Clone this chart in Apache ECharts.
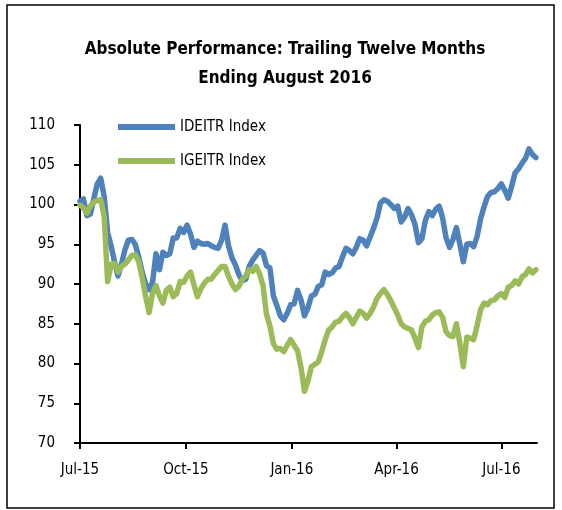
<!DOCTYPE html>
<html>
<head>
<meta charset="utf-8">
<script src="https://cdn.jsdelivr.net/npm/echarts@6/dist/echarts.min.js"></script>
<style>
  html, body { margin: 0; padding: 0; background: #fff; }
  #chart { width: 562px; height: 510px; }
</style>
</head>
<body>
<div id="chart"></div>
<script>
const dates = [
  '2015-07-01', '2015-07-04', '2015-07-07', '2015-07-10', '2015-07-13', '2015-07-16', '2015-07-19', '2015-07-22', '2015-07-25', '2015-07-28', '2015-07-31',
  '2015-08-03', '2015-08-06', '2015-08-09', '2015-08-12', '2015-08-15', '2015-08-18', '2015-08-21', '2015-08-24', '2015-08-27', '2015-08-30',
  '2015-09-02', '2015-09-05', '2015-09-08', '2015-09-11', '2015-09-14', '2015-09-17', '2015-09-20', '2015-09-23', '2015-09-26', '2015-09-29',
  '2015-10-02', '2015-10-05', '2015-10-08', '2015-10-11', '2015-10-14', '2015-10-17', '2015-10-20', '2015-10-23', '2015-10-26', '2015-10-29',
  '2015-11-01', '2015-11-04', '2015-11-07', '2015-11-10', '2015-11-13', '2015-11-16', '2015-11-19', '2015-11-22', '2015-11-25', '2015-11-28',
  '2015-12-01', '2015-12-04', '2015-12-07', '2015-12-10', '2015-12-13', '2015-12-16', '2015-12-19', '2015-12-22', '2015-12-25', '2015-12-28', '2015-12-31',
  '2016-01-03', '2016-01-06', '2016-01-09', '2016-01-12', '2016-01-15', '2016-01-18', '2016-01-21', '2016-01-24', '2016-01-27', '2016-01-30',
  '2016-02-02', '2016-02-05', '2016-02-08', '2016-02-11', '2016-02-14', '2016-02-17', '2016-02-20', '2016-02-23', '2016-02-26', '2016-02-29',
  '2016-03-03', '2016-03-06', '2016-03-09', '2016-03-12', '2016-03-15', '2016-03-18', '2016-03-21', '2016-03-24', '2016-03-27', '2016-03-30',
  '2016-04-02', '2016-04-05', '2016-04-08', '2016-04-11', '2016-04-14', '2016-04-17', '2016-04-20', '2016-04-23', '2016-04-26', '2016-04-29',
  '2016-05-02', '2016-05-05', '2016-05-08', '2016-05-11', '2016-05-14', '2016-05-17', '2016-05-20', '2016-05-23', '2016-05-26', '2016-05-29',
  '2016-06-01', '2016-06-04', '2016-06-07', '2016-06-10', '2016-06-13', '2016-06-16', '2016-06-19', '2016-06-22', '2016-06-25', '2016-06-28',
  '2016-07-01', '2016-07-04', '2016-07-07', '2016-07-10', '2016-07-13', '2016-07-16', '2016-07-19', '2016-07-22', '2016-07-25', '2016-07-28', '2016-07-31'
];

const ideitr = [
  100.4, 100.7, 98.6, 98.8, 100.7, 102.6, 103.3, 101.0, 96.5, 94.8, 92.8,
  91.0, 92.5, 94.3, 95.5, 95.6, 95.0, 93.4, 91.5, 90.0, 89.3,
  90.2, 93.8, 91.8, 94.0, 93.6, 93.8, 95.8, 95.8, 97.0, 96.5,
  97.4, 96.3, 94.6, 95.4, 95.1, 95.0, 95.1, 94.8, 94.6, 94.5,
  95.5, 97.4, 94.8, 93.3, 92.4, 91.2, 90.4, 90.6, 92.2, 93.0,
  93.6, 94.2, 93.9, 92.3, 92.0, 88.5, 87.3, 86.0, 85.5, 86.3, 87.4,
  87.5, 89.2, 88.0, 86.0, 87.0, 88.5, 88.7, 89.7, 89.9, 91.5,
  91.2, 91.4, 92.0, 92.2, 93.4, 94.5, 94.2, 93.8, 94.6, 95.7,
  95.5, 94.8, 95.9, 97.0, 98.3, 100.2, 100.6, 100.4, 100.0, 99.5,
  99.8, 97.8, 98.4, 99.5, 98.7, 97.5, 95.2, 95.7, 98.0, 99.1,
  98.6, 99.4, 99.8, 98.3, 95.8, 94.6, 95.6, 97.1, 95.0, 92.8,
  95.0, 95.1, 94.7, 96.0, 98.2, 99.7, 101.0, 101.5, 101.6, 102.0,
  102.6, 101.8, 100.8, 102.3, 104.0, 104.5, 105.2, 105.8, 107.0, 106.3, 105.9
];

const igeitr = [
  99.9, 99.6, 98.9, 99.8, 100.3, 100.5, 100.6, 98.5, 90.3, 92.5, 92.6,
  91.5, 92.2, 92.5, 93.0, 93.6, 93.7, 92.8, 90.8, 88.5, 86.4,
  88.8, 89.8, 88.5, 87.6, 89.2, 89.6, 88.4, 88.8, 90.3, 90.2,
  91.0, 91.5, 89.9, 88.4, 89.4, 90.1, 90.6, 90.6, 91.2, 91.7,
  92.2, 92.2, 91.0, 90.0, 89.3, 89.7, 90.6, 91.0, 91.8, 91.6,
  92.2, 91.3, 89.8, 86.2, 84.7, 82.5, 81.8, 81.9, 81.5, 82.3, 83.0,
  82.3, 81.6, 79.5, 76.5, 77.8, 79.6, 79.9, 80.2, 81.5, 83.0,
  84.2, 84.6, 85.2, 85.3, 85.9, 86.3, 85.8, 85.0, 85.8, 86.6,
  86.3, 85.7, 86.3, 87.1, 88.2, 88.8, 89.3, 88.7, 87.9, 87.0,
  86.1, 85.0, 84.6, 84.4, 84.2, 83.2, 82.0, 84.6, 85.3, 85.5,
  86.1, 86.4, 86.5, 85.8, 84.0, 83.5, 83.4, 85.0, 82.5, 79.6,
  83.3, 83.2, 83.0, 84.8, 86.8, 87.6, 87.4, 87.9, 88.0, 88.5,
  88.8, 88.3, 89.6, 89.8, 90.4, 90.0, 90.9, 91.2, 91.9, 91.4, 91.8
];

const seriesNames = ['IDEITR Index', 'IGEITR Index'];
const tickDates = ['2015-07-01', '2015-10-01', '2016-01-01', '2016-04-01', '2016-07-01'];
const tickLabels = ['Jul-15', 'Oct-15', 'Jan-16', 'Apr-16', 'Jul-16'];

const FONT = '"DejaVu Sans Condensed", "Liberation Sans Narrow", sans-serif';

// timestamp from 'YYYY-MM-DD'
const toTime = (s) => {
  const [y, m, d] = s.split('-').map(Number);
  return new Date(y, m - 1, d).getTime();
};

const tickTimes = tickDates.map(toTime);

const chart = echarts.init(document.getElementById('chart'));

const option = {
  animation: false,
  backgroundColor: '#fff',
  graphic: [
    {
      type: 'rect',
      shape: { x: 7, y: 5, width: 547, height: 503 },
      style: { fill: 'none', stroke: '#000', lineWidth: 1.5 },
      silent: true
    }
  ],
  title: {
    text: 'Absolute Performance: Trailing Twelve Months\nEnding August 2016',
    left: 280,
    top: 30,
    textAlign: 'center',
    textStyle: {
      fontFamily: FONT,
      fontSize: 17,
      fontWeight: 'bold',
      lineHeight: 29,
      color: '#000'
    }
  },
  legend: {
    orient: 'vertical',
    left: 113,
    top: 114,
    icon: 'rect',
    itemWidth: 57,
    itemHeight: 6,
    itemGap: 18,
    textStyle: { fontFamily: FONT, fontSize: 15, color: '#000', lineHeight: 16 },
    data: seriesNames
  },
  grid: {
    left: 80,
    right: 25,
    top: 125,
    bottom: 67
  },
  xAxis: {
    type: 'value',
    min: toTime('2015-07-01'),
    max: toTime('2016-08-01'),
    axisLine: { lineStyle: { color: '#000', width: 2 } },
    axisTick: {
      show: true,
      length: 6,
      lineStyle: { color: '#000', width: 2 },
      customValues: tickTimes
    },
    axisLabel: {
      customValues: tickTimes,
      margin: 20,
      fontFamily: FONT,
      fontSize: 15,
      color: '#000',
      formatter: (value) => {
        const i = tickTimes.indexOf(value);
        return i >= 0 ? tickLabels[i] : '';
      }
    },
    splitLine: { show: false }
  },
  yAxis: {
    type: 'value',
    min: 70,
    max: 110,
    interval: 5,
    axisLine: { show: true, lineStyle: { color: '#000', width: 2 } },
    axisTick: { show: true, length: 6, lineStyle: { color: '#000', width: 2 } },
    axisLabel: {
      margin: 25,
      fontFamily: FONT,
      fontSize: 15,
      color: '#000'
    },
    splitLine: { show: false }
  },
  series: [
    {
      name: seriesNames[0],
      type: 'line',
      data: dates.map((d, i) => [toTime(d), ideitr[i]]),
      showSymbol: false,
      symbol: 'none',
      itemStyle: { color: '#4F81BD' },
      lineStyle: { color: '#4F81BD', width: 5.5, join: 'round', cap: 'round' },
      z: 3
    },
    {
      name: seriesNames[1],
      type: 'line',
      data: dates.map((d, i) => [toTime(d), igeitr[i]]),
      showSymbol: false,
      symbol: 'none',
      itemStyle: { color: '#9BBB59' },
      lineStyle: { color: '#9BBB59', width: 5.5, join: 'round', cap: 'round' },
      z: 4
    }
  ]
};

chart.setOption(option);
</script>
</body>
</html>
